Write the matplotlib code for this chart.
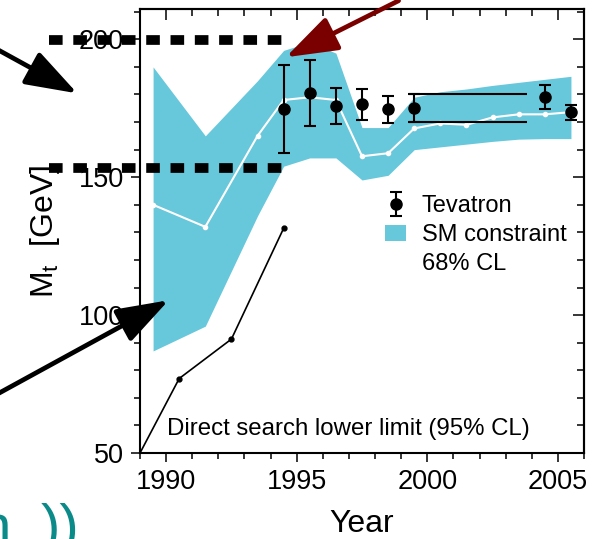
import matplotlib
matplotlib.use("Agg")
import matplotlib.pyplot as plt
from matplotlib.patches import Patch

plt.rcParams['font.family'] = ['Liberation Sans', 'DejaVu Sans']
plt.rcParams['mathtext.fontset'] = 'custom'
plt.rcParams['mathtext.rm'] = 'Liberation Sans'

# SM constraint band (68% CL) and central fit
sm_year = [1989.5, 1991.5, 1992.5, 1993.5, 1994.5, 1995.5, 1996.5, 1997.5,
           1998.5, 1999.5, 2000.5, 2001.5, 2002.5, 2003.5, 2004.5, 2005.5]
sm_upper = [190, 165, 175, 185, 196, 199, 195, 168, 168, 179, 181, 182, 183.3, 184.4, 185.5, 186.6]
sm_lower = [87, 96, 116, 136, 154, 157, 157, 149, 150.7, 160, 161, 162, 163, 163.8, 164, 164]
fit_year = [1989.5, 1991.5, 1993.5, 1994.5, 1995.5, 1996.5, 1997.5, 1998.5,
            1999.5, 2000.5, 2001.5, 2002.5, 2003.5, 2004.5, 2005.5]
fit_mt = [140, 132, 165, 178, 179, 178, 157.6, 158.7, 167.7, 169.5, 169, 171.7, 172.8, 172.8, 173.6]

# Tevatron direct measurements
tev_year = [1994.5, 1995.5, 1996.5, 1997.5, 1998.5, 1999.5, 2004.5, 2005.5]
tev_mt = [174.6, 180.4, 175.7, 176.4, 174.6, 175, 179, 173.5]
tev_err = [16, 12, 6.5, 5.5, 5, 5, 4.3, 2.8]
run2_lines = [170, 180]
run2_span = [1999.3, 2003.8]

# direct search lower limit
lim_year = [1989.0, 1990.5, 1992.5, 1994.5]
lim_mt = [50, 77, 91.3, 131.5]

# slide overlay: dashed guide lines and arrows (data coords)
guide_y = [199.6, 153.3]
guide_x = [1985.5, 1994.65]
arrows = [((1983.6, 196), (1986.6, 180.4), 'black'),
          ((1983.6, 71.7), (1990.1, 105.4), 'black'),
          ((1998.9, 214), (1994.58, 193.5), '#7a0000')]

band_color = '#67c7db'

fig = plt.figure(figsize=(6.02, 5.39), dpi=100)
ax = fig.add_axes([0.2326, 0.1596, 0.7375, 0.8237])

ax.fill_between(sm_year, sm_lower, sm_upper, color=band_color, lw=0, zorder=1)
ax.plot(fit_year, fit_mt, color='white', lw=1.5, marker='o', ms=3, zorder=2)
ax.plot(lim_year, lim_mt, color='black', lw=1.2, marker='o', ms=3.5,
        markevery=slice(1, None), zorder=3, clip_on=False)
ax.hlines(run2_lines, run2_span[0], run2_span[1], color='black', lw=1.5, zorder=3)
eb = ax.errorbar(tev_year, tev_mt, yerr=tev_err, fmt='o', color='black', ms=8,
                 capsize=4, elinewidth=1.5, capthick=1.5, zorder=4)

ax.text(1990.05, 56.5, 'Direct search lower limit (95% CL)', fontsize=17.3, va='baseline')

empty = plt.Line2D([], [], ls='none', marker='none')
ax.legend([eb, Patch(facecolor=band_color, edgecolor='none'), empty],
          ['Tevatron', 'SM constraint', '68% CL'], loc='upper left',
          bbox_to_anchor=(0.552, 0.58), frameon=False, fontsize=17,
          handlelength=0.9, handletextpad=0.65, labelspacing=0.28, borderpad=0,
          borderaxespad=0)

ax.set_xlim(1989, 2006)
ax.set_ylim(50, 211)
ax.set_xticks([1990, 1995, 2000, 2005])
ax.set_xticks(range(1989, 2007), minor=True)
ax.set_yticks([50, 100, 150, 200])
ax.set_yticks(range(50, 211, 10), minor=True)
ax.tick_params(labelsize=19.5, width=1.1, length=6.5, direction='out', pad=5)
ax.tick_params(which='minor', width=1.1, length=4, direction='out')
for s in ax.spines.values():
    s.set_linewidth(1.5)

top = ax.secondary_xaxis('top')
top.set_xticks([1990, 1995, 2000, 2005])
top.set_xticks(range(1989, 2007), minor=True)
top.tick_params(direction='in', length=8, width=1.1, labeltop=False)
top.tick_params(which='minor', direction='in', length=5, width=1.1)
right = ax.secondary_yaxis('right')
right.set_yticks([50, 100, 150, 200])
right.set_yticks(range(50, 211, 10), minor=True)
right.tick_params(direction='in', length=8, width=1.1, labelright=False)
right.tick_params(which='minor', direction='in', length=5, width=1.1)
for sa in (top, right):
    for s in sa.spines.values():
        s.set_linewidth(1.5)

ax.set_xlabel('Year', fontsize=23, labelpad=10)
ax.set_ylabel(r'M$_{\mathrm{t}}$  [GeV]', fontsize=23, labelpad=12)

# overlay
for gy in guide_y:
    ax.plot(guide_x, [gy, gy], color='black', lw=7, ls=(0, (1.4, 1.1)),
            clip_on=False, zorder=10, solid_capstyle='butt', dash_capstyle='butt')
for tail, tip, col in arrows:
    ax.annotate('', xy=tip, xytext=tail, annotation_clip=False, zorder=11,
                arrowprops=dict(arrowstyle='-|>,head_length=1.6,head_width=0.55',
                                mutation_scale=20, lw=3.4, color=col,
                                shrinkA=0, shrinkB=0))

fig.text(0.017, -0.011, 'n', fontsize=42, color='#0b8a8a', ha='right', va='baseline')
fig.text(0.068, -0.011, '))', fontsize=42, color='#0b8a8a', ha='left', va='baseline')

fig.savefig('out.png', dpi=100)
